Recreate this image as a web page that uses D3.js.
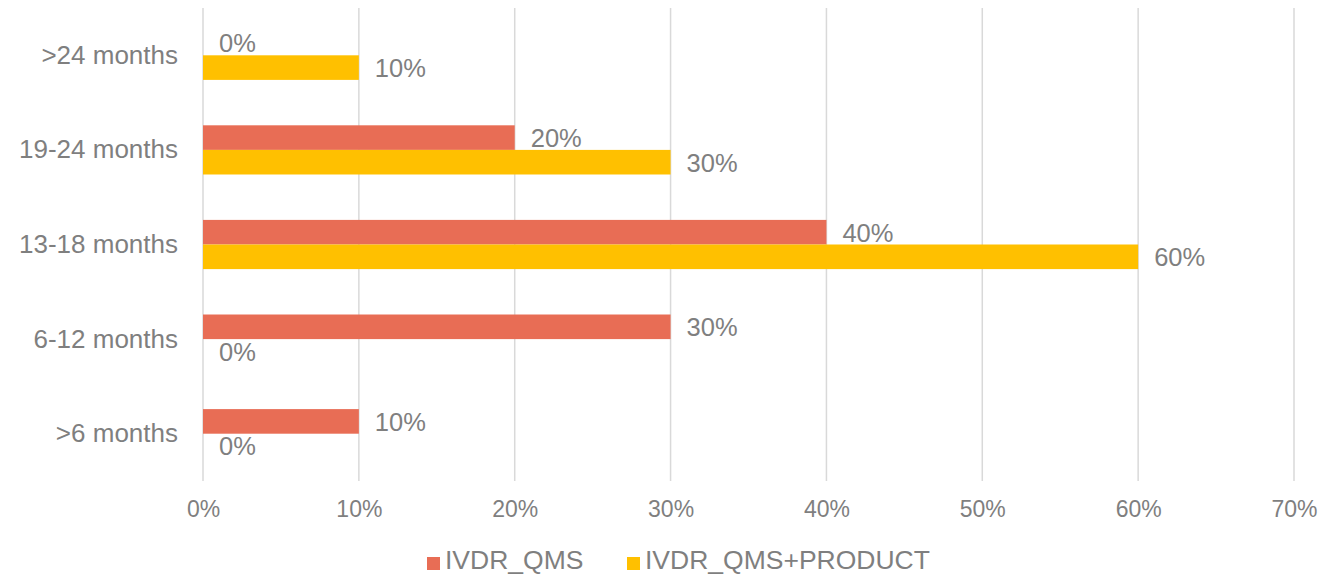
<!DOCTYPE html>
<html>
<head>
<meta charset="utf-8">
<script src="https://cdnjs.cloudflare.com/ajax/libs/d3/7.8.5/d3.min.js"></script>
<style>
  body { margin: 0; background: #fff; }
  svg { font-family: "Liberation Sans", Arial, sans-serif; }
</style>
</head>
<body>
<svg width="1337" height="574"></svg>
<script>
// Data
const categories = [">24 months", "19-24 months", "13-18 months", "6-12 months", ">6 months"]
const seriesNames = ["IVDR_QMS", "IVDR_QMS+PRODUCT"]
const qmsValues = [0, 20, 40, 30, 10]
const productValues = [10, 30, 60, 0, 0]
const xTicks = [0, 10, 20, 30, 40, 50, 60, 70]

const colors = ["#E86D55", "#FFC000"]
const textColor = "#7F7F7F"

const margin = { left: 203, right: 43, top: 8, bottom: 93 }
const width = 1337, height = 574
const w = width - margin.left - margin.right
const h = height - margin.top - margin.bottom

const svg = d3.select('svg')

// Scales
const x = d3.scaleLinear()
  .domain([0, 70])
  .range([margin.left, margin.left + w])

const y = d3.scaleBand()
  .domain(categories)
  .range([margin.top, margin.top + h])
  .paddingInner(0.48)
  .paddingOuter(0.24)

const ySub = d3.scaleBand()
  .domain(seriesNames)
  .range([0, y.bandwidth()])

const color = d3.scaleOrdinal()
  .domain(seriesNames)
  .range(colors)

// Gridlines
svg.append('g')
  .selectAll('line')
  .data(xTicks)
  .enter()
  .append('line')
  .attr('x1', d => x(d))
  .attr('x2', d => x(d))
  .attr('y1', margin.top)
  .attr('y2', margin.top + h)
  .attr('stroke', '#D9D9D9')
  .attr('stroke-width', 1.5)

// X axis labels
const xAxis = d3.axisBottom(x)
  .tickValues(xTicks)
  .tickFormat(d => d + '%')
  .tickSize(0)
  .tickPadding(0)

const xg = svg.append('g')
  .attr('transform', `translate(0, ${margin.top + h})`)
  .call(xAxis)
xg.select('.domain').remove()
xg.selectAll('text')
  .attr('y', 36)
  .attr('dy', null)
  .attr('fill', textColor)
  .style('font-size', '23px')
  .style('font-family', '"Liberation Sans", Arial, sans-serif')

// Y axis labels
const yAxis = d3.axisLeft(y)
  .tickSize(0)
  .tickPadding(25)

const yg = svg.append('g')
  .attr('transform', `translate(${margin.left}, 0)`)
  .call(yAxis)
yg.select('.domain').remove()
yg.selectAll('text')
  .attr('fill', textColor)
  .attr('dy', '0.33em')
  .style('font-size', '26px')
  .style('font-family', '"Liberation Sans", Arial, sans-serif')

// Bars
const rows = categories.map((c, i) => ({
  category: c,
  values: [
    { series: seriesNames[0], value: qmsValues[i] },
    { series: seriesNames[1], value: productValues[i] }
  ]
}))

const groups = svg.append('g')
  .selectAll('g')
  .data(rows)
  .enter()
  .append('g')
  .attr('transform', d => `translate(0, ${y(d.category)})`)

groups.selectAll('rect')
  .data(d => d.values)
  .enter()
  .append('rect')
  .attr('x', x(0))
  .attr('y', d => ySub(d.series))
  .attr('width', d => x(d.value) - x(0))
  .attr('height', ySub.bandwidth())
  .attr('fill', d => color(d.series))

// Data labels
groups.selectAll('text')
  .data(d => d.values)
  .enter()
  .append('text')
  .attr('x', d => x(d.value) + 16)
  .attr('y', d => ySub(d.series) + ySub.bandwidth() / 2)
  .attr('dy', '0.37em')
  .attr('fill', textColor)
  .style('font-size', '25.5px')
  .text(d => d.value + '%')

// Legend
const legendItems = [
  { name: seriesNames[0], x: 427 },
  { name: seriesNames[1], x: 627 }
]
const legend = svg.append('g')
  .selectAll('g')
  .data(legendItems)
  .enter()
  .append('g')
  .attr('transform', d => `translate(${d.x}, 557)`)

legend.append('rect')
  .attr('width', 13)
  .attr('height', 13)
  .attr('fill', d => color(d.name))

legend.append('text')
  .attr('x', 18)
  .attr('y', 12)
  .attr('fill', textColor)
  .style('font-size', '26.5px')
  .text(d => d.name)
</script>
</body>
</html>
